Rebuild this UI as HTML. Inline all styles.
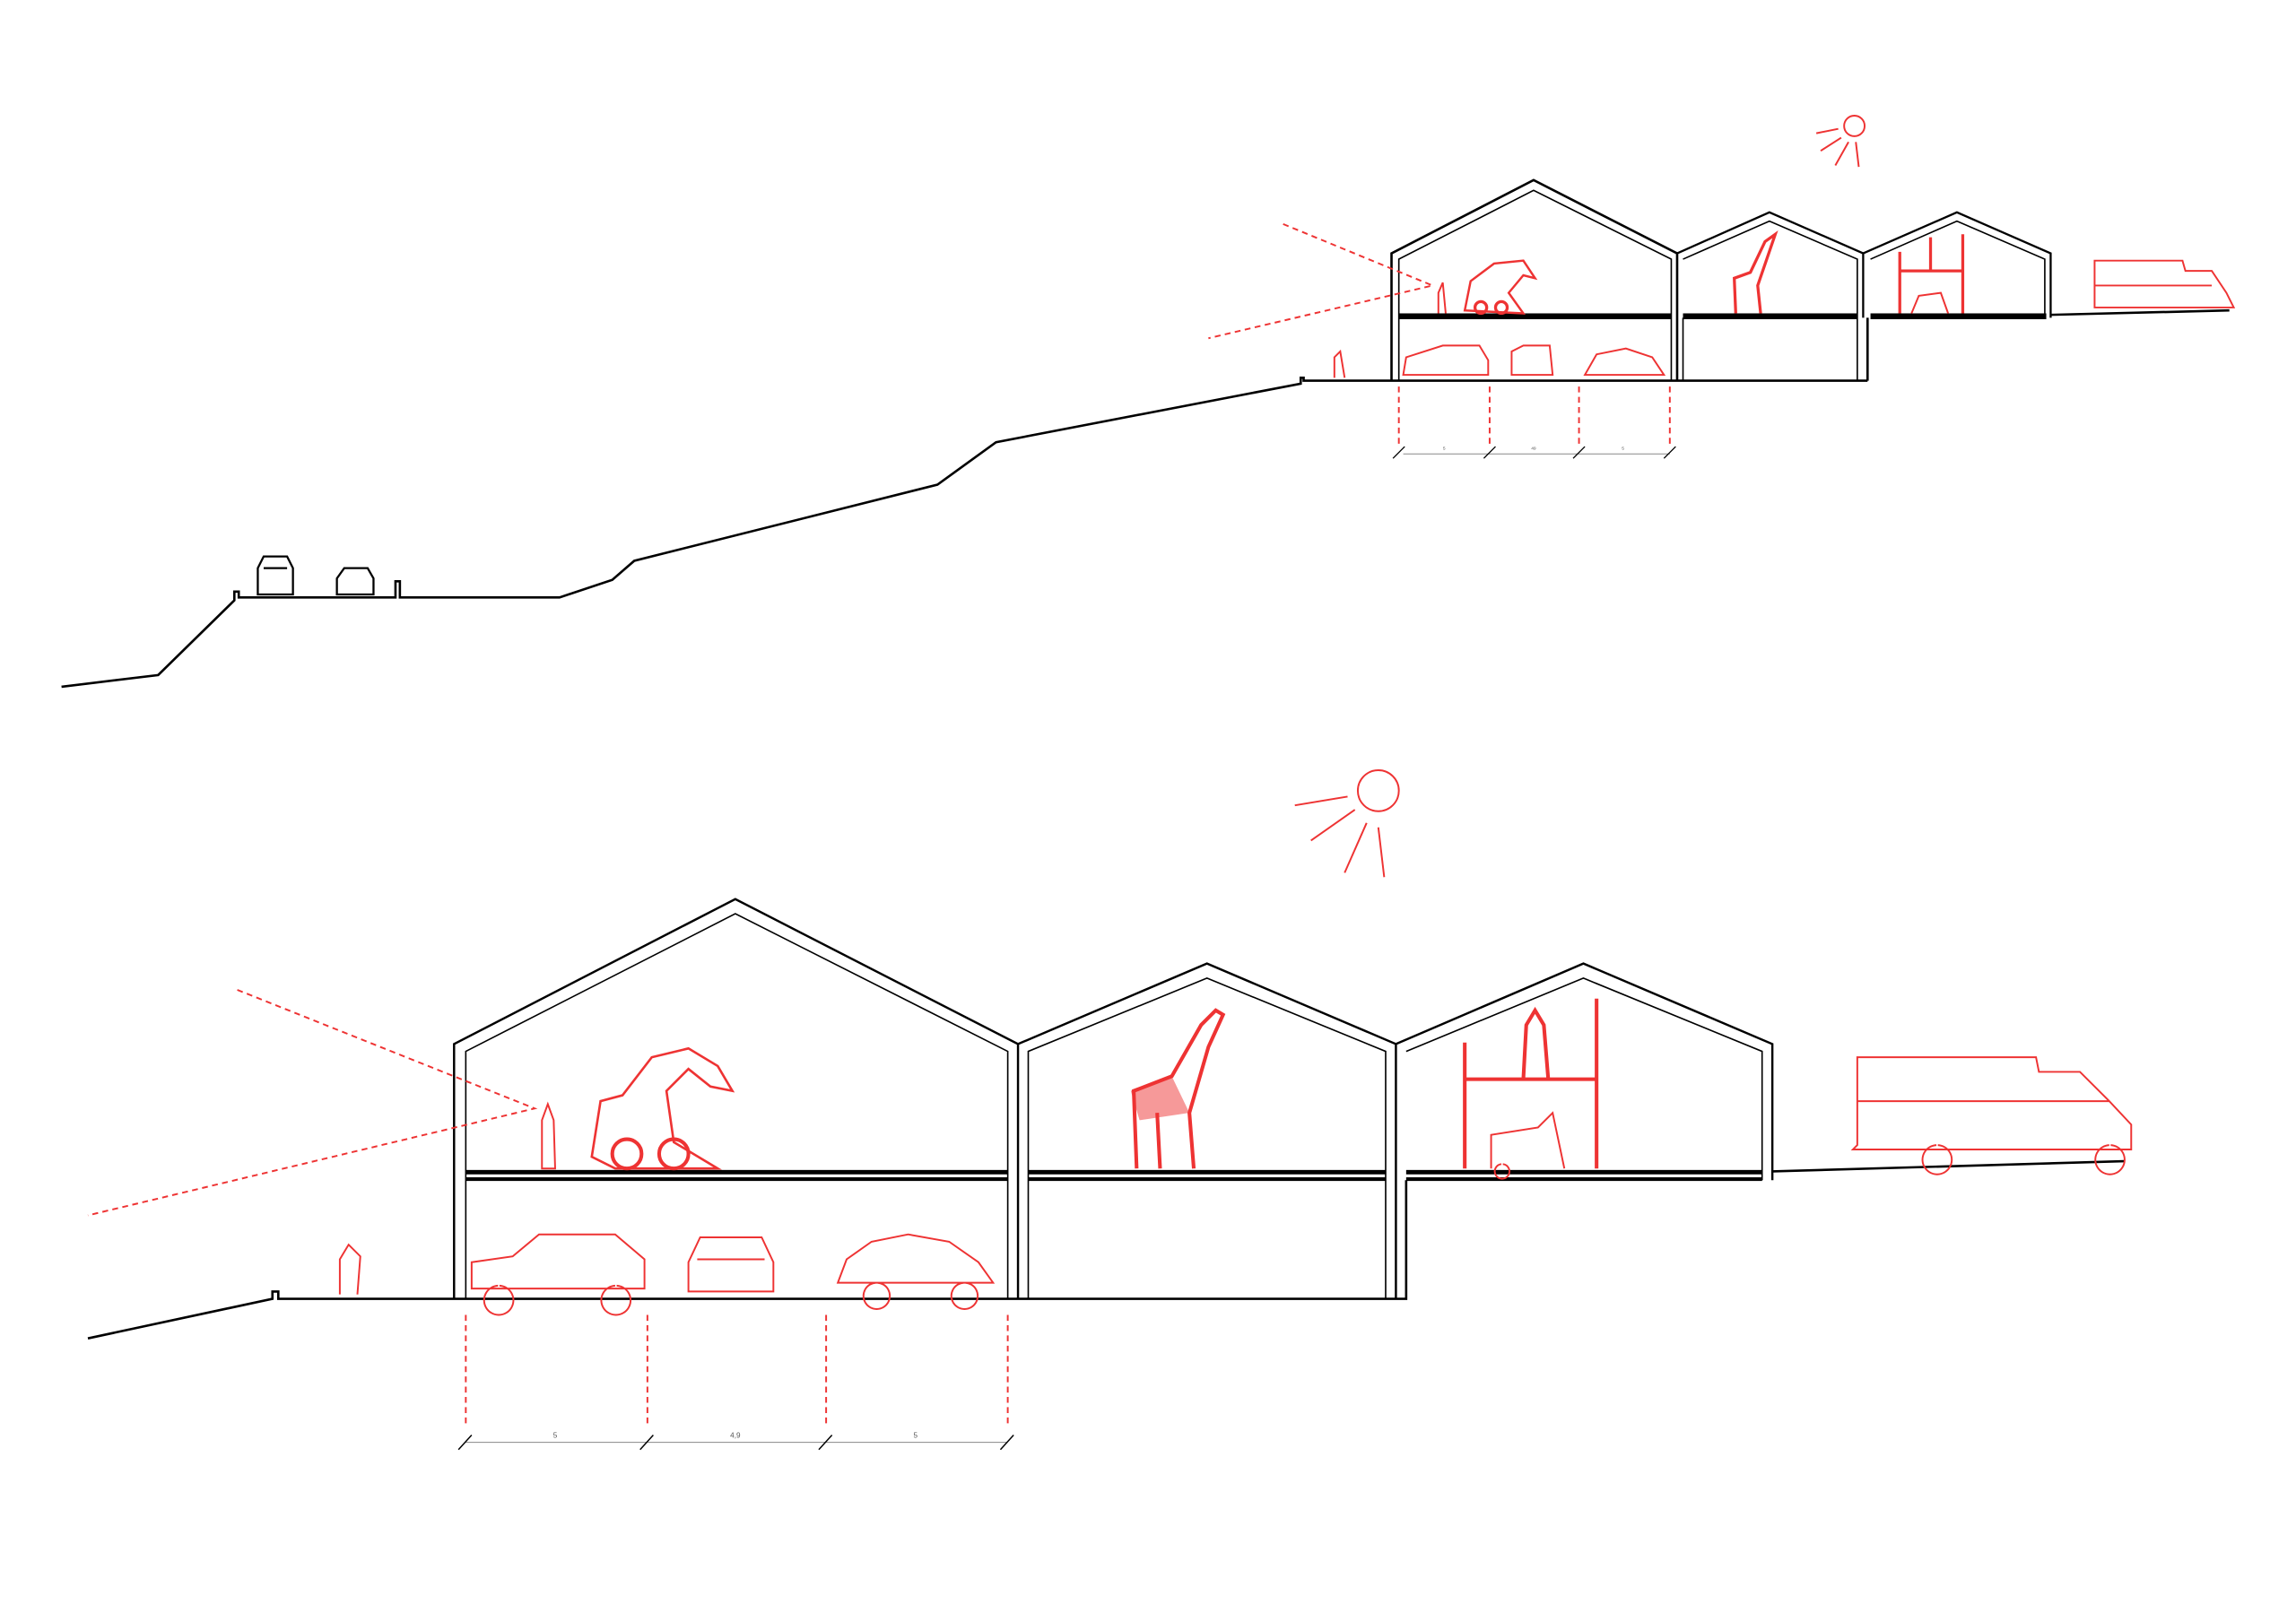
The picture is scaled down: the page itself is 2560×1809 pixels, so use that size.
<!DOCTYPE html>
<html><head><meta charset="utf-8"><style>html,body{margin:0;padding:0;background:#fff}svg{display:block}</style></head><body>
<svg width="2560" height="1809" viewBox="0 0 1567.5 1107.7" preserveAspectRatio="none" xmlns="http://www.w3.org/2000/svg">
<g fill="none" stroke="#000" stroke-width="1.6">
<polyline points="42,469 108,461 160,410 160,404 163,404 163,408 270,408 270,397 273,397 273,408 382,408 418,396 433,383 640,331 680,302 888,262 888,258 890,258 890,260 1275,260"/>
<polyline points="950,260 950,173 1047,123 1145,173 1145,260"/>
<polyline points="955,260 955,177 1047,130 1141,177 1141,260" stroke-width="1"/>
<polyline points="1145,173 1208,145 1272,173 1272,217" stroke-width="1.4"/>
<polyline points="1149,177 1208,151 1268,177 1268,260" stroke-width="1"/>
<line x1="1275" y1="217" x2="1275" y2="260"/>
<polyline points="1272,173 1336,145 1400,173 1400,217" stroke-width="1.4"/>
<polyline points="1277,177 1336,151 1396,177 1396,214" stroke-width="1"/>
<line x1="1149" y1="260" x2="1149" y2="217" stroke-width="1"/>
<rect x="955" y="214" width="186" height="4" fill="#000" stroke="none"/>
<rect x="1149" y="214" width="119" height="4" fill="#000" stroke="none"/>
<rect x="1277" y="214" width="120" height="4" fill="#000" stroke="none"/>
<line x1="1400" y1="215" x2="1522" y2="212"/>
<line x1="958" y1="310" x2="1140" y2="310" stroke="#888" stroke-width="0.6"/>
<g stroke-width="0.8"><line x1="951" y1="313" x2="959" y2="305"/><line x1="1013" y1="313" x2="1021" y2="305"/><line x1="1074" y1="313" x2="1082" y2="305"/><line x1="1136" y1="313" x2="1144" y2="305"/></g>
<polyline points="60,914 186,887 186,882 190,882 190,887 960,887 960,806"/>
<polyline points="310,887 310,713 502,614 695,713 695,887" stroke-width="1.5"/>
<polyline points="318,887 318,718 502,624 688,718 688,887" stroke-width="1"/>
<polyline points="695,713 824,658 953,713 953,887" stroke-width="1.5"/>
<polyline points="702,887 702,718 824,668 946,718 946,887" stroke-width="1"/>
<polyline points="953,713 1081,658 1210,713 1210,806" stroke-width="1.5"/>
<polyline points="960,718 1081,668 1203,718 1203,806" stroke-width="1"/>
<rect x="318" y="799" width="370" height="3" fill="#000" stroke="none"/><rect x="318" y="804" width="370" height="2.5" fill="#000" stroke="none"/>
<rect x="702" y="799" width="244" height="3" fill="#000" stroke="none"/><rect x="702" y="804" width="244" height="2.5" fill="#000" stroke="none"/>
<rect x="960" y="799" width="243" height="3" fill="#000" stroke="none"/><rect x="960" y="804" width="243" height="2.5" fill="#000" stroke="none"/>
<line x1="1210" y1="800" x2="1450" y2="793"/>
<line x1="318" y1="985" x2="688" y2="985" stroke="#888" stroke-width="0.6"/>
<g stroke-width="0.9"><line x1="313" y1="990" x2="322" y2="980"/><line x1="437" y1="990" x2="446" y2="980"/><line x1="559" y1="990" x2="568" y2="980"/><line x1="683" y1="990" x2="692" y2="980"/></g>
<path d="M176,406 L176,388 L180,380 L196,380 L200,388 L200,406 Z M180,388 L196,388" stroke-width="1.4"/>
<path d="M230,406 L230,395 L235,388 L251,388 L255,395 L255,406 Z" stroke-width="1.4"/>
</g>
<g font-family="Liberation Sans, sans-serif" font-size="5" fill="#555" text-anchor="middle">
<text x="379" y="982">5</text><text x="502" y="982">4,9</text><text x="625" y="982">5</text>
<text x="986" y="307" font-size="3">5</text><text x="1047" y="307" font-size="3">49</text><text x="1108" y="307" font-size="3">5</text>
</g>
<g fill="none" stroke="#e33" stroke-width="1.2">
<circle cx="1266" cy="86" r="7"/>
<line x1="1240" y1="91" x2="1255" y2="88"/><line x1="1243" y1="103" x2="1257" y2="94"/><line x1="1253" y1="113" x2="1262" y2="97"/><line x1="1269" y1="114" x2="1267" y2="97"/>
<circle cx="941" cy="540" r="14"/>
<line x1="884" y1="550" x2="920" y2="544"/><line x1="895" y1="574" x2="925" y2="553"/><line x1="918" y1="596" x2="933" y2="562"/><line x1="945" y1="599" x2="941" y2="565"/>
<g stroke-dasharray="4,3">
<polyline points="876,153 978,195 825,231"/>
<polyline points="162,676 365,757 60,830"/>
<line x1="955" y1="264" x2="955" y2="305"/><line x1="1017" y1="264" x2="1017" y2="305"/><line x1="1078" y1="264" x2="1078" y2="305"/><line x1="1140" y1="264" x2="1140" y2="305"/>
<line x1="318" y1="898" x2="318" y2="975"/><line x1="442" y1="898" x2="442" y2="975"/><line x1="564" y1="898" x2="564" y2="975"/><line x1="688" y1="898" x2="688" y2="975"/>
</g>
<path d="M370,798 L370,765 L374,754 L378,765 L379,798 Z"/>
<path d="M404,790 L410,752 L425,748 L445,722 L470,716 L490,728 L500,745 L485,742 L470,730 L455,745 L460,780 L490,798 L420,798 Z" stroke-width="1.6"/>
<circle cx="428" cy="788" r="10" stroke-width="2.5"/><circle cx="460" cy="788" r="10" stroke-width="2.5"/>
<path d="M776,798 L774,745 L800,735 L820,700 L830,690 L835,693 L825,715 L812,760 L815,798 M790,760 L792,798" stroke-width="2.5"/>
<path d="M772,745 L800,735 L812,760 L778,765 Z" fill="#e33" opacity="0.5" stroke="none"/>
<path d="M1000,798 L1000,712 M1090,682 L1090,798 M1000,737 L1090,737 M1040,737 L1042,700 L1048,690 L1054,700 L1057,737" stroke-width="2.5"/>
<path d="M1018,798 L1018,775 L1050,770 L1060,760 L1068,798 M1025,795 a5,5 0 1 0 1,0"/>
<path d="M322,880 L322,862 L350,858 L368,843 L420,843 L440,860 L440,880 Z M340,878 a10,10 0 1 0 1,0 M420,878 a10,10 0 1 0 1,0"/>
<path d="M470,882 L470,862 L478,845 L520,845 L528,862 L528,882 Z M476,860 L522,860"/>
<path d="M572,876 L578,860 L595,848 L620,843 L648,848 L668,862 L678,876 Z M598,876 a9,9 0 1 0 1,0 M658,876 a9,9 0 1 0 1,0"/>
<path d="M232,884 L232,860 L238,850 L246,858 L244,884"/>
<path d="M1268,782 L1268,722 L1390,722 L1392,732 L1420,732 L1440,752 L1455,768 L1455,785 L1265,785 Z M1268,752 L1440,752 M1322,782 a10,10 0 1 0 1,0 M1440,782 a10,10 0 1 0 1,0"/>
<path d="M982,214 L982,200 L985,193 L987,214"/>
<path d="M1000,212 L1004,192 L1020,180 L1040,178 L1048,190 L1040,188 L1030,200 L1040,214 Z" stroke-width="1.5"/>
<circle cx="1011" cy="210" r="4" stroke-width="2"/><circle cx="1025" cy="210" r="4" stroke-width="2"/>
<path d="M1185,214 L1184,190 L1195,186 L1205,165 L1212,160 L1200,195 L1202,214" stroke-width="2"/>
<path d="M1297,214 L1297,172 M1340,160 L1340,214 M1297,185 L1340,185 M1318,185 L1318,162" stroke-width="2"/>
<path d="M1305,214 L1310,202 L1325,200 L1330,214"/>
<path d="M958,256 L960,244 L985,236 L1010,236 L1016,246 L1016,256 Z M1032,256 L1032,240 L1040,236 L1058,236 L1060,256 Z M1082,256 L1090,242 L1110,238 L1128,244 L1136,256 Z"/>
<path d="M911,258 L911,244 L915,240 L918,258"/>
<path d="M1430,210 L1430,178 L1490,178 L1492,185 L1510,185 L1520,200 L1525,210 Z M1430,195 L1510,195"/>
</g>
</svg>
</body></html>
